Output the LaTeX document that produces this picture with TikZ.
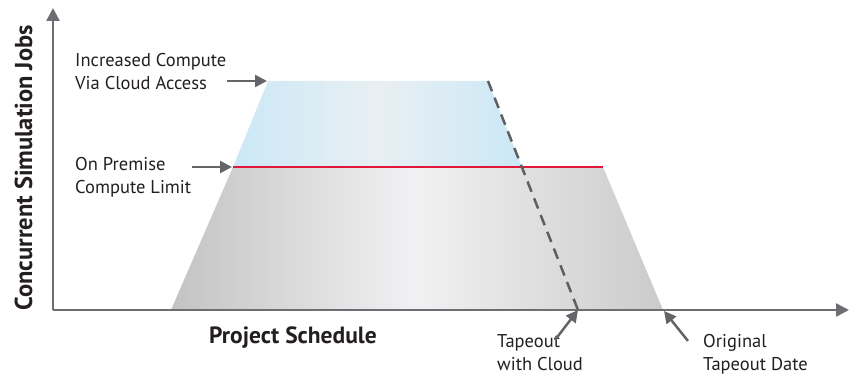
\documentclass[tikz,border=0pt]{standalone}
\usepackage{fontspec}
\setmainfont{PT Sans}
\usetikzlibrary{arrows.meta}
\definecolor{axisgray}{HTML}{6D6E71}
\definecolor{txt}{HTML}{231F20}
\definecolor{redline}{HTML}{E2183A}
\definecolor{dashgray}{HTML}{5E5F62}
\definecolor{arrgray}{HTML}{646569}
\definecolor{blueA}{HTML}{CBE8F6}
\definecolor{blueB}{HTML}{E9EFF3}
\definecolor{greyA}{HTML}{C3C3C3}
\definecolor{greyB}{HTML}{F1F1F3}
\definecolor{greyC}{HTML}{CCCBCA}
\tikzset{
  axisline/.style={draw=axisgray, line width=2.5pt, -{Triangle[length=13pt,width=13pt]}},
  pointer/.style={draw=arrgray, line width=2.5pt, -{Triangle[length=12pt,width=12pt]}},
  lbl/.style={text=txt, inner sep=0pt, align=left, font=\fontsize{18.5}{23.5}\selectfont},
  bold/.style={text=txt, inner sep=0pt, font=\bfseries},
}
\begin{document}
\begin{tikzpicture}[x=1pt,y=-1pt]
\useasboundingbox (0,0) rectangle (850,377);
% corners
\coordinate (gBL) at (171,310);
\coordinate (gTL) at (233,167);
\coordinate (gTR) at (603,167);
\coordinate (gBR) at (663,310);
\coordinate (bTL) at (268,81);
\coordinate (bTR) at (488,81);
\coordinate (bBR) at (522,167);
\coordinate (cloudEnd) at (578,310);
\coordinate (origin) at (53,310);
\coordinate (ytop) at (53,8);
\coordinate (xend) at (849,310);
% grey area
\begin{scope}
  \clip (gBL) -- (gTL) -- (gTR) -- (gBR) -- cycle;
  \shade[left color=greyA, right color=greyC, middle color=greyB] (171,160) rectangle (663,312);
\end{scope}
% blue area
\begin{scope}
  \clip (gTL) -- (bTL) -- (bTR) -- (bBR) -- cycle;
  \shade[left color=blueA, right color=blueA, middle color=blueB] (233,78) rectangle (522,168);
\end{scope}
% red limit line
\draw[redline, line width=2.5pt] (gTL) -- (gTR);
% dashed cloud line
\draw[dashgray, line width=2.5pt, dash pattern=on 11pt off 7pt] (bTR) -- (cloudEnd);
% axes
\draw[axisline] (origin) -- (ytop);
\draw[axisline] (origin) -- (xend);
% labels
\node[lbl, anchor=north west] (inc) at (75,53) {Increased Compute\\Via Cloud Access};
\node[lbl, anchor=north west] (prem) at (75,157) {On Premise\\Compute Limit};
\node[lbl, anchor=north west] (tcl) at (497,334) {Tapeout\\with Cloud};
\node[lbl, anchor=north west] (orig) at (703,334) {Original\\Tapeout Date};
\node[bold, font=\fontsize{23.5}{28}\selectfont\bfseries, anchor=base] (xlab) at (293,343) {Project Schedule};
\node[bold, font=\fontsize{24.5}{29}\selectfont\bfseries, anchor=base, rotate=90] (ylab) at (32,168) {Concurrent Simulation Jobs};
% pointer arrows
\coordinate (incT) at (227,81);
\coordinate (incH) at (267,81);
\coordinate (premT) at (192,167);
\coordinate (premH) at (232,167);
\coordinate (tclT) at (555,340);
\coordinate (origT) at (688,341);
\coordinate (origH) at (664,311);
\draw[pointer] (incT) -- (incH);
\draw[pointer] (premT) -- (premH);
\draw[pointer] (tclT) -- (cloudEnd);
\draw[pointer] (origT) -- (origH);
\end{tikzpicture}
\end{document}
